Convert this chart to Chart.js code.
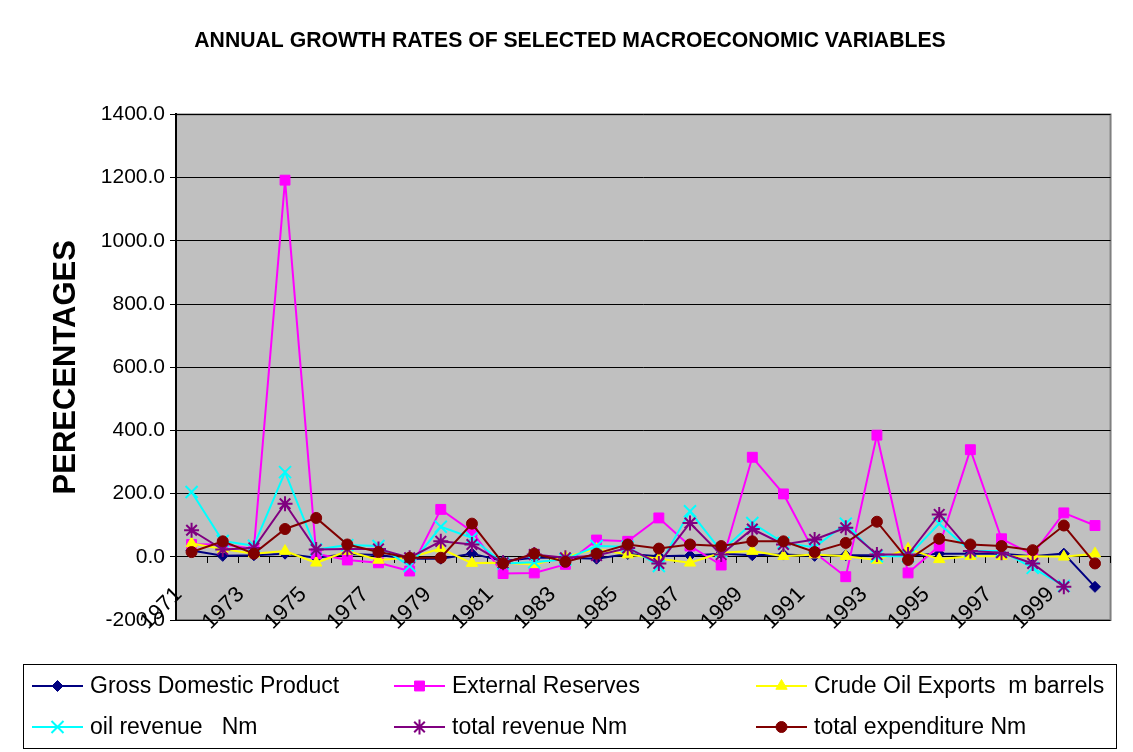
<!DOCTYPE html>
<html>
<head>
<meta charset="utf-8">
<script src="https://cdn.jsdelivr.net/npm/chart.js@4.4.1/dist/chart.umd.min.js"></script>
<style>
  html, body { margin: 0; padding: 0; background: #fff; }
  #wrap { width: 1133px; height: 752px; }
</style>
</head>
<body>
<div id="wrap"><canvas id="growthChart" width="1133" height="752"></canvas></div>
<script>
// --- data ---
const years = ['1971','1972','1973','1974','1975','1976','1977','1978','1979','1980',
               '1981','1982','1983','1984','1985','1986','1987','1988','1989','1990',
               '1991','1992','1993','1994','1995','1996','1997','1998','1999','2000'];

const gdp      = [20, 3, 5, 10, -3, 9, 6, -6, -6, 10, -13, -3, -3, -6, 9, 2, 4, 10, 5, 7, 3, 5, 5, 4, 10, 10, 10, 2, 10, -95];
const reserves = [39, 40, 25, 1192, 10, -10, -19, -45, 150, 80, -53, -51, -24, 53, 49, 123, 34, -26, 315, 199, 13, -63, 385, -51, 34, 339, 57, 7, 139, 99];
const crudeOil = [42, 25, 10, 18, -19, 18, -10, -3, 26, -20, -19, -24, 0, 25, 7, -6, -19, 13, 18, 2, 7, 2, -10, 25, -8, 2, 2, 2, 0, 10];
const oilRev   = [205, 50, 35, 268, 23, 37, 34, -29, 95, 60, -21, -17, -8, 34, 32, -29, 144, 18, 107, 44, 30, 105, 2, 2, 105, 18, 18, -35, -92, null];
const totalRev = [84, 23, 28, 168, 23, 25, 25, -3, 49, 39, -19, 7, -3, 4, 28, -21, 107, 7, 88, 39, 55, 92, 7, 7, 134, 18, 13, -21, -95, null];
const totalExp = [15, 49, 10, 88, 123, 39, 15, -3, -3, 105, -21, 10, -16, 10, 39, 26, 39, 34, 49, 49, 15, 44, 111, -10, 57, 39, 34, 21, 99, -21];

const seriesNames = ['Gross Domestic Product', 'External Reserves', 'Crude Oil Exports  m barrels',
                     'oil revenue   Nm', 'total revenue Nm', 'total expenditure Nm'];
const yTicks = { min: -200, max: 1400, step: 200 };

const FONT = "'Liberation Sans', Arial, sans-serif";

// --- series look (Excel default colours / markers) ---
const seriesStyle = [
  { color: '#000080', style: 'rectRot',  radius: 5.5 },
  { color: '#FF00FF', style: 'rect',     radius: 7 },
  { color: '#FFFF00', style: 'triangle', radius: 6.5 },
  { color: '#00FFFF', style: 'crossRot', radius: 8.5 },
  { color: '#800080', style: 'star',     radius: 7.5 },
  { color: '#800000', style: 'circle',   radius: 5.5 }
];
const seriesData = [gdp, reserves, crudeOil, oilRev, totalRev, totalExp];

const datasets = seriesData.map((d, i) => ({
  label: seriesNames[i],
  data: d,
  borderColor: seriesStyle[i].color,
  backgroundColor: seriesStyle[i].color,
  borderWidth: 2,
  pointStyle: seriesStyle[i].style,
  pointRadius: seriesStyle[i].radius,
  pointBackgroundColor: seriesStyle[i].color,
  pointBorderColor: seriesStyle[i].color,
  pointBorderWidth: (i === 3 || i === 4) ? 2 : 1,
  tension: 0,
  spanGaps: false,
  order: seriesData.length - 1 - i   // later series on top, like Excel
}));

// grey plot area with a border
const plotArea = {
  id: 'plotArea',
  beforeDraw(chart) {
    const { ctx, chartArea: a } = chart;
    ctx.save();
    ctx.fillStyle = '#C0C0C0';
    ctx.fillRect(a.left, a.top, a.right - a.left, a.bottom - a.top);
    ctx.strokeStyle = '#808080';
    ctx.lineWidth = 2;
    ctx.strokeRect(a.left, a.top, a.right - a.left, a.bottom - a.top);
    ctx.restore();
  }
};

// Excel-like boxed legend, 3 columns x 2 rows
const boxLegend = {
  id: 'boxLegend',
  afterDraw(chart) {
    const ctx = chart.ctx;
    const cols = [32, 394, 756];
    const rows = [686, 727];
    ctx.save();
    ctx.strokeStyle = '#000';
    ctx.lineWidth = 1;
    ctx.strokeRect(23.5, 664.5, 1093, 84);
    ctx.font = '23px ' + FONT;
    ctx.textBaseline = 'middle';
    ctx.fillStyle = '#000';
    chart.data.datasets.forEach((ds, i) => {
      const x = cols[i % 3], y = rows[Math.floor(i / 3)];
      ctx.strokeStyle = ds.borderColor;
      ctx.lineWidth = 2;
      ctx.beginPath();
      ctx.moveTo(x, y);
      ctx.lineTo(x + 51, y);
      ctx.stroke();
      ctx.fillStyle = ds.pointBackgroundColor;
      ctx.strokeStyle = ds.pointBorderColor;
      ctx.lineWidth = ds.pointBorderWidth;
      Chart.helpers.drawPoint(ctx, {
        pointStyle: ds.pointStyle, rotation: 0,
        radius: ds.pointRadius, borderWidth: ds.pointBorderWidth
      }, x + 25.5, y);
      ctx.fillStyle = '#000';
      ctx.fillText(ds.label, x + 58, y + 1);
    });
    ctx.restore();
  }
};

new Chart(document.getElementById('growthChart'), {
  type: 'line',
  data: { labels: years, datasets: datasets },
  options: {
    responsive: false,
    animation: false,
    devicePixelRatio: 1,
    layout: { padding: { left: 28, right: 21, top: 0, bottom: 132 } },
    plugins: {
      legend: { display: false },
      tooltip: { enabled: false },
      title: {
        display: true,
        text: 'ANNUAL GROWTH RATES OF SELECTED MACROECONOMIC VARIABLES',
        color: '#000',
        font: { family: FONT, size: 21.2, weight: 'bold' },
        padding: { top: 28, bottom: 61 }
      }
    },
    scales: {
      x: {
        type: 'category',
        position: { y: 0 },
        offset: true,
        grid: { display: true, drawOnChartArea: false, drawTicks: true, tickLength: 6,
                offset: true, color: '#000', tickColor: '#000' },
        border: { display: true, color: '#000', width: 1 },
        ticks: {
          autoSkip: false, maxRotation: 45, minRotation: 45,
          labelOffset: -13, padding: 19,
          color: '#000', font: { family: FONT, size: 22 },
          callback: (v, i) => (i % 2 === 0 ? years[i] : '')
        }
      },
      y: {
        min: yTicks.min, max: yTicks.max,
        afterFit: s => { s.width = 148; },
        ticks: {
          stepSize: yTicks.step, padding: 5, color: '#000',
          font: { family: FONT, size: 21 },
          callback: v => v.toFixed(1)
        },
        grid: { color: '#000', lineWidth: 1, tickLength: 6, tickColor: '#000' },
        border: { display: true, color: '#000', width: 2 },
        title: {
          display: true, text: 'PERECENTAGES', color: '#000',
          font: { family: FONT, size: 31, weight: 'bold' },
          padding: { top: 20, bottom: 0 }
        }
      }
    }
  },
  plugins: [plotArea, boxLegend]
});
</script>
</body>
</html>
